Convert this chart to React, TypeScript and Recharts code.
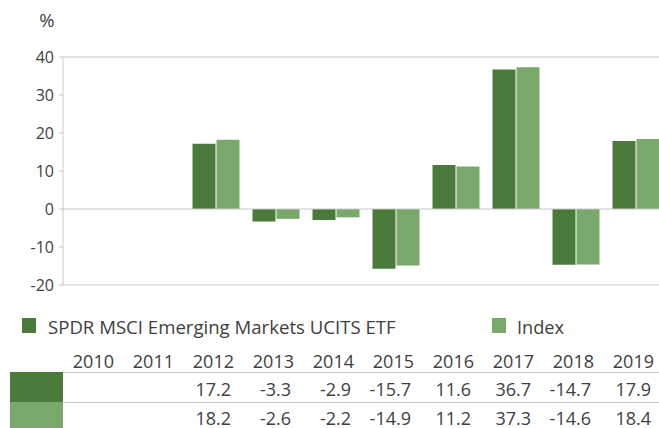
import React from 'react';
import { BarChart, Bar, XAxis, YAxis, ReferenceLine } from 'recharts';

const years = ['2010', '2011', '2012', '2013', '2014', '2015', '2016', '2017', '2018', '2019'];
const fundValues = [null, null, 17.2, -3.3, -2.9, -15.7, 11.6, 36.7, -14.7, 17.9];
const indexValues = [null, null, 18.2, -2.6, -2.2, -14.9, 11.2, 37.3, -14.6, 18.4];
const yTicks = [-20, -10, 0, 10, 20, 30, 40];
const fundName = 'SPDR MSCI Emerging Markets UCITS ETF';
const indexName = 'Index';

const DARK = '#4a7b3b';
const LIGHT = '#79a86b';
const GRID = '#c8c8c8';
const TEXT = '#404040';
const FONT = '"Open Sans", "Noto Sans", sans-serif';

const PLOT_LEFT = 63;
const PAD = 2.5;
const CAT_W = 60;

const data = years.map((y, i) => ({ year: y, fund: fundValues[i], index: indexValues[i] }));

const fmt = (v: number | null) => (v === null ? '' : v.toFixed(1));

export default function App() {
  const colRight = (i: number) => PLOT_LEFT + PAD + CAT_W * (i + 1) - 11.5;
  return (
    <div style={{ position: 'absolute', left: 0, top: 0, width: 659, height: 428, overflow: 'hidden', background: '#fff', fontFamily: FONT }}>
      <div style={{ position: 'absolute', left: 0, top: 0 }}>
        <BarChart
          width={672}
          height={300}
          data={data}
          margin={{ top: 57, right: 4, bottom: 15, left: 0 }}
          barSize={23}
          barGap={1}
        >
          <XAxis dataKey="year" hide padding={{ left: PAD, right: PAD }} />
          <YAxis
            width={63}
            domain={[-20, 40]}
            ticks={yTicks}
            interval={0}
            axisLine={{ stroke: GRID }}
            tickLine={{ stroke: GRID }}
            tickSize={4}
            tickMargin={5}
            tick={{ fill: TEXT, fontSize: 16, fontFamily: FONT }}
          />
          <ReferenceLine y={40} stroke={GRID} strokeWidth={1} />
          <ReferenceLine y={-20} stroke={GRID} strokeWidth={1} />
          <ReferenceLine y={0} stroke={GRID} strokeWidth={1} />
          <Bar dataKey="fund" fill={DARK} isAnimationActive={false} />
          <Bar dataKey="index" fill={LIGHT} isAnimationActive={false} />
        </BarChart>
      </div>
      <svg width={659} height={428} style={{ position: 'absolute', left: 0, top: 0 }}>
        <text x={47} y={27} textAnchor="middle" fontSize={18.5} fill={TEXT} fontFamily={FONT}>%</text>
        <rect x={22} y={318} width={14} height={15} fill={DARK} />
        <text x={48} y={334} fontSize={18.6} fill={TEXT} fontFamily={FONT}>{fundName}</text>
        <rect x={492} y={318} width={14} height={15} fill={LIGHT} />
        <text x={517} y={334} fontSize={18.2} fill={TEXT} fontFamily={FONT}>{indexName}</text>
        {years.map((y, i) => (
          <text key={'y' + y} x={colRight(i)} y={368} textAnchor="end" fontSize={18} fill={TEXT} fontFamily={FONT}>{y}</text>
        ))}
        <line x1={PLOT_LEFT} x2={659} y1={372.5} y2={372.5} stroke={GRID} />
        <line x1={PLOT_LEFT} x2={659} y1={402.5} y2={402.5} stroke={GRID} />
        <rect x={10} y={372} width={53} height={30} fill={DARK} />
        <rect x={10} y={402} width={53} height={30} fill={LIGHT} />
        {fundValues.map((v, i) => (
          <text key={'f' + i} x={colRight(i) - 3} y={396} textAnchor="end" fontSize={18} fill={TEXT} fontFamily={FONT}>{fmt(v)}</text>
        ))}
        {indexValues.map((v, i) => (
          <text key={'x' + i} x={colRight(i) - 3} y={424.5} textAnchor="end" fontSize={18} fill={TEXT} fontFamily={FONT}>{fmt(v)}</text>
        ))}
      </svg>
    </div>
  );
}
